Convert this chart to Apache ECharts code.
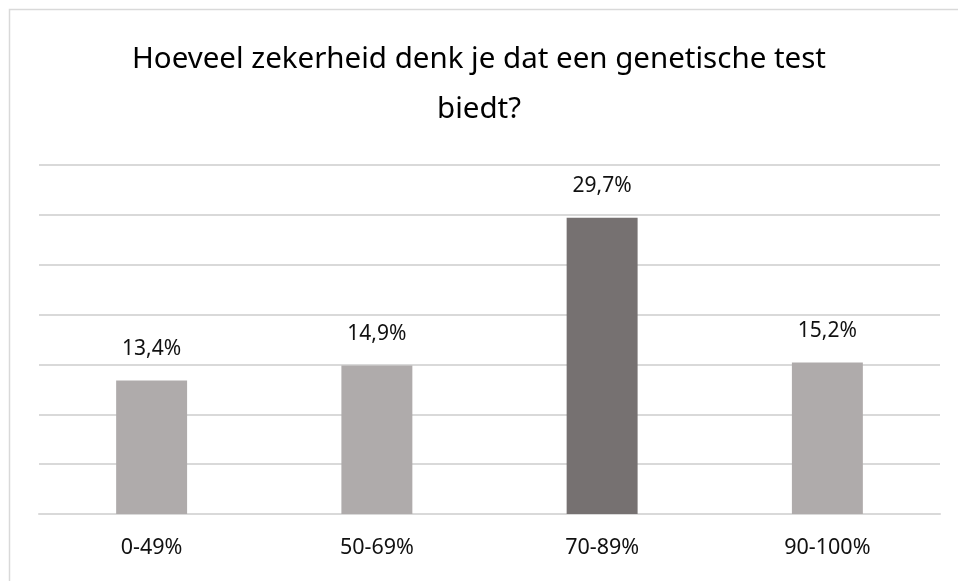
<!DOCTYPE html>
<html>
<head>
<meta charset="utf-8">
<script src="https://cdn.jsdelivr.net/npm/echarts@6/dist/echarts.min.js"></script>
<style>
html,body{margin:0;padding:0;background:#fff;}
#c{width:958px;height:581px;}
</style>
</head>
<body>
<div id="c"></div>
<script>
var titleText = 'Hoeveel zekerheid denk je dat een genetische test\nbiedt?';
var categories = ['0-49%', '50-69%', '70-89%', '90-100%'];
var values = [13.4, 14.9, 29.7, 15.2];
var highlightIndex = 2;
var yMin = 0, yMax = 35, yInterval = 5;

var FONT = '"Noto Sans", "Open Sans", sans-serif';
var chart = echarts.init(document.getElementById('c'), null, {renderer: 'canvas'});
chart.setOption({
  animation: false,
  backgroundColor: '#fff',
  graphic: [{
    type: 'rect', silent: true,
    shape: {x: 9.5, y: 9.5, width: 1000, height: 1000},
    style: {fill: 'none', stroke: '#d9d9d9', lineWidth: 1.5}
  }],
  title: {
    text: titleText,
    left: 'center',
    top: 30,
    textStyle: {fontFamily: FONT, fontSize: 29.5, fontWeight: 'normal', color: '#000', lineHeight: 50}
  },
  grid: {left: 39, right: 18, top: 165, bottom: 67},
  xAxis: {
    type: 'category',
    data: categories,
    axisTick: {show: false},
    axisLine: {lineStyle: {color: '#d9d9d9', width: 2}},
    axisLabel: {fontFamily: FONT, fontSize: 21.5, color: '#111', margin: 23}
  },
  yAxis: {
    type: 'value',
    min: yMin, max: yMax, interval: yInterval,
    axisLabel: {show: false},
    axisLine: {show: false},
    axisTick: {show: false},
    splitLine: {lineStyle: {color: '#d9d9d9', width: 2}}
  },
  series: [{
    type: 'bar',
    barWidth: '31.5%',
    data: values.map(function (v, i) {
      return {value: v, itemStyle: {color: i === highlightIndex ? '#767171' : '#afabab'}};
    }),
    label: {
      show: true,
      position: 'top',
      distance: 21,
      fontFamily: FONT, fontSize: 21, color: '#111',
      formatter: function (p) { return p.value.toFixed(1).replace('.', ',') + '%'; }
    }
  }]
});
</script>
</body>
</html>
